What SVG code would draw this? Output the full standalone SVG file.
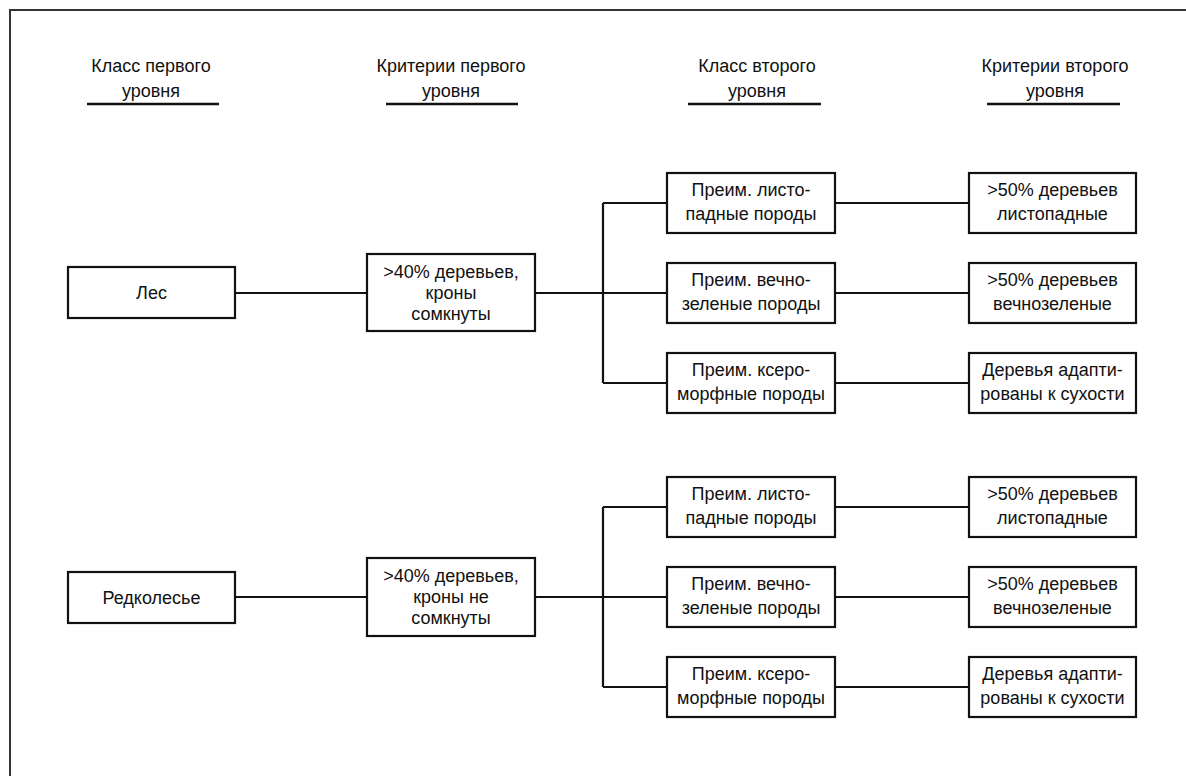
<svg xmlns="http://www.w3.org/2000/svg" width="1186" height="776" viewBox="0 0 1186 776">
<style>
.box{fill:#fff;stroke:#111;stroke-width:2.2}
.t{font-family:"Liberation Sans",Arial,sans-serif;font-size:18px;fill:#111;text-anchor:middle}
.h{font-family:"Liberation Sans",Arial,sans-serif;font-size:18px;fill:#111;text-anchor:middle}
.c{stroke:#111;stroke-width:2.2;fill:none}
.u{stroke:#111;stroke-width:2.5}
</style>
<rect width="1186" height="776" fill="#fff"/>
<path d="M10,776 V10 H1186" fill="none" stroke="#333" stroke-width="2"/>
<g id="headers">
<text class="h" x="151" y="72">Класс первого</text>
<text class="h" x="151" y="97">уровня</text>
<line class="u" x1="87" y1="104" x2="219" y2="104"/>
<text class="h" x="451" y="72">Критерии первого</text>
<text class="h" x="451" y="97">уровня</text>
<line class="u" x1="386" y1="104" x2="518" y2="104"/>
<text class="h" x="757" y="72">Класс второго</text>
<text class="h" x="757" y="97">уровня</text>
<line class="u" x1="688" y1="104" x2="821" y2="104"/>
<text class="h" x="1055" y="72">Критерии второго</text>
<text class="h" x="1055" y="97">уровня</text>
<line class="u" x1="987" y1="104" x2="1120" y2="104"/>
</g>
<g id="connectors">
<path class="c" d="M235,293 H367 M535,293 H603 M603,203 V383 M603,203 H667 M603,293 H667 M603,383 H667 M835,203 H969 M835,293 H969 M835,383 H969"/>
<path class="c" d="M235,597 H367 M535,597 H603 M603,507 V687 M603,507 H667 M603,597 H667 M603,687 H667 M835,507 H969 M835,597 H969 M835,687 H969"/>
</g>
<g id="les"><rect class="box" x="68" y="267" width="167" height="51"/><text class="t" x="151.5" y="299">Лес</text></g>
<g id="crit1"><rect class="box" x="367" y="254" width="168" height="77"/><text class="t" x="451" y="278">&gt;40% деревьев,</text><text class="t" x="451" y="299">кроны</text><text class="t" x="451" y="320">сомкнуты</text></g>
<g id="a1"><rect class="box" x="667" y="173" width="168" height="60"/><text class="t" x="751" y="196">Преим. листо-</text><text class="t" x="751" y="220">падные породы</text></g>
<g id="a2"><rect class="box" x="667" y="263" width="168" height="60"/><text class="t" x="751" y="286">Преим. вечно-</text><text class="t" x="751" y="310">зеленые породы</text></g>
<g id="a3"><rect class="box" x="667" y="353" width="168" height="60"/><text class="t" x="751" y="376">Преим. ксеро-</text><text class="t" x="751" y="400">морфные породы</text></g>
<g id="b1"><rect class="box" x="969" y="173" width="167" height="60"/><text class="t" x="1052.5" y="196">&gt;50% деревьев</text><text class="t" x="1052.5" y="220">листопадные</text></g>
<g id="b2"><rect class="box" x="969" y="263" width="167" height="60"/><text class="t" x="1052.5" y="286">&gt;50% деревьев</text><text class="t" x="1052.5" y="310">вечнозеленые</text></g>
<g id="b3"><rect class="box" x="969" y="353" width="167" height="60"/><text class="t" x="1052.5" y="376">Деревья адапти-</text><text class="t" x="1052.5" y="400">рованы к сухости</text></g>
<g id="redk"><rect class="box" x="68" y="572" width="167" height="51"/><text class="t" x="151.5" y="604">Редколесье</text></g>
<g id="crit2"><rect class="box" x="367" y="558" width="168" height="78"/><text class="t" x="451" y="582">&gt;40% деревьев,</text><text class="t" x="451" y="603">кроны не</text><text class="t" x="451" y="624">сомкнуты</text></g>
<g id="c1"><rect class="box" x="667" y="477" width="168" height="60"/><text class="t" x="751" y="500">Преим. листо-</text><text class="t" x="751" y="524">падные породы</text></g>
<g id="c2"><rect class="box" x="667" y="567" width="168" height="60"/><text class="t" x="751" y="590">Преим. вечно-</text><text class="t" x="751" y="614">зеленые породы</text></g>
<g id="c3"><rect class="box" x="667" y="657" width="168" height="60"/><text class="t" x="751" y="680">Преим. ксеро-</text><text class="t" x="751" y="704">морфные породы</text></g>
<g id="d1"><rect class="box" x="969" y="477" width="167" height="60"/><text class="t" x="1052.5" y="500">&gt;50% деревьев</text><text class="t" x="1052.5" y="524">листопадные</text></g>
<g id="d2"><rect class="box" x="969" y="567" width="167" height="60"/><text class="t" x="1052.5" y="590">&gt;50% деревьев</text><text class="t" x="1052.5" y="614">вечнозеленые</text></g>
<g id="d3"><rect class="box" x="969" y="657" width="167" height="60"/><text class="t" x="1052.5" y="680">Деревья адапти-</text><text class="t" x="1052.5" y="704">рованы к сухости</text></g>
</svg>
